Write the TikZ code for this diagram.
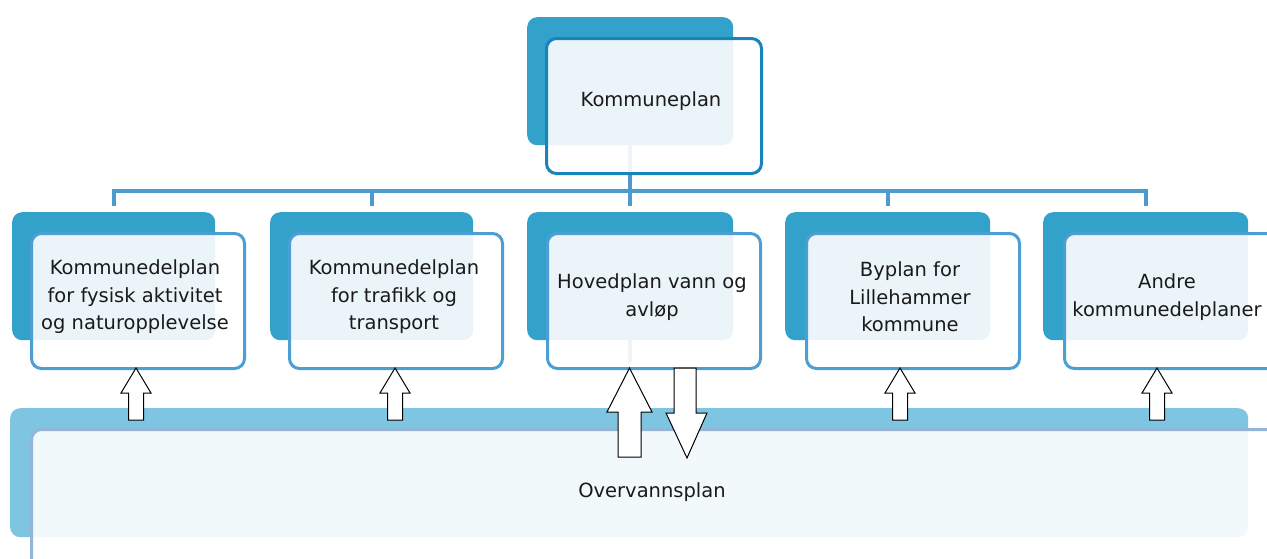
\documentclass[tikz,border=0pt]{standalone}
\usepackage{fontspec}
\setmainfont{DejaVu Sans}
\definecolor{backblue}{HTML}{33A2CB}
\definecolor{lightback}{HTML}{7DC5E0}
\definecolor{topborder}{HTML}{1A84BA}
\definecolor{childborder}{HTML}{4D9ED2}
\definecolor{botborder}{HTML}{93B5D6}
\definecolor{connblue}{HTML}{4E9ACF}
\definecolor{txt}{HTML}{1A1A1A}
\tikzset{
  backbox/.style={fill=backblue, rounded corners=10pt, inner sep=0pt, anchor=north west},
  frontbox/.style={fill=white, fill opacity=0.9, draw=childborder, line width=3pt, rounded corners=10pt, inner sep=0pt, anchor=north west},
  conn/.style={draw=connblue, line width=4pt},
  lbl/.style={font=\fontsize{19.5pt}{27.5pt}\selectfont, text=txt, align=center, inner sep=0pt},
  blockarrow/.style={fill=white, draw=black, line width=1pt, line join=miter}
}
\begin{document}
\begin{tikzpicture}[x=1pt,y=-1pt]
\clip (0,0) rectangle (1267,558);
\fill[white] (0,0) rectangle (1267,558);
% back boxes
\node[backbox, minimum width=206pt, minimum height=128pt] (tb) at (527,17) {};
\node[backbox, minimum width=203pt, minimum height=128pt] (c1b) at (12,212) {};
\node[backbox, minimum width=203pt, minimum height=128pt] (c2b) at (270,212) {};
\node[backbox, minimum width=206pt, minimum height=128pt] (c3b) at (527,212) {};
\node[backbox, minimum width=205pt, minimum height=128pt] (c4b) at (785,212) {};
\node[backbox, minimum width=205pt, minimum height=128pt] (c5b) at (1043,212) {};
\node[backbox, fill=lightback, minimum width=1238pt, minimum height=129pt] (bb) at (10,408) {};
% connectors
\coordinate (bus) at (630,191);
\draw[conn] (tb.south) -- (tb.south |- bus);
\draw[conn, line cap=rect] (c1b.north |- bus) -- (c5b.north |- bus);
\foreach \c in {c1b,c2b,c3b,c4b,c5b} {
  \draw[conn] (\c.north |- bus) -- ([yshift=6pt]\c.north);
}
\draw[conn] (c3b.south) -- ++(0,22);
% front boxes
\node[frontbox, draw=topborder, minimum width=215pt, minimum height=135pt] (tf) at (545,37) {};
\node[frontbox, minimum width=213pt, minimum height=135pt] (c1f) at (30,232) {};
\node[frontbox, minimum width=213pt, minimum height=135pt] (c2f) at (288,232) {};
\node[frontbox, minimum width=213pt, minimum height=135pt] (c3f) at (546,232) {};
\node[frontbox, minimum width=213pt, minimum height=135pt] (c4f) at (805,232) {};
\node[frontbox, minimum width=213pt, minimum height=135pt] (c5f) at (1063,232) {};
\node[frontbox, draw=botborder, minimum width=1260pt, minimum height=150pt] (bf) at (30,428) {};
% labels
\node[lbl] (t) at (651,101) {Kommuneplan};
\node[lbl] (l1) at (135,297) {Kommunedelplan\\for fysisk aktivitet\\og naturopplevelse};
\node[lbl] (l2) at (394,297) {Kommunedelplan\\for trafikk og\\transport};
\node[lbl] (l3) at (652,297) {Hovedplan vann og\\avløp};
\node[lbl] (l4) at (910,297) {Byplan for\\Lillehammer\\kommune};
\node[lbl] (l5) at (1167,297) {Andre\\kommunedelplaner};
\node[lbl] (lb) at (652,492) {Overvannsplan};
% block arrows
\foreach \cx in {136,395,900,1157} {
  \draw[blockarrow] (\cx,368) -- (\cx+15,393) -- (\cx+7.5,393) -- (\cx+7.5,420)
    -- (\cx-7.5,420) -- (\cx-7.5,393) -- (\cx-15,393) -- cycle;
}
\draw[blockarrow] (629.5,368) -- (652,412) -- (641,412) -- (641,457)
  -- (618,457) -- (618,412) -- (607,412) -- cycle;
\draw[blockarrow] (674,368) -- (696,368) -- (696,413) -- (707,413)
  -- (687,458) -- (666,413) -- (674,413) -- cycle;
\end{tikzpicture}
\end{document}
